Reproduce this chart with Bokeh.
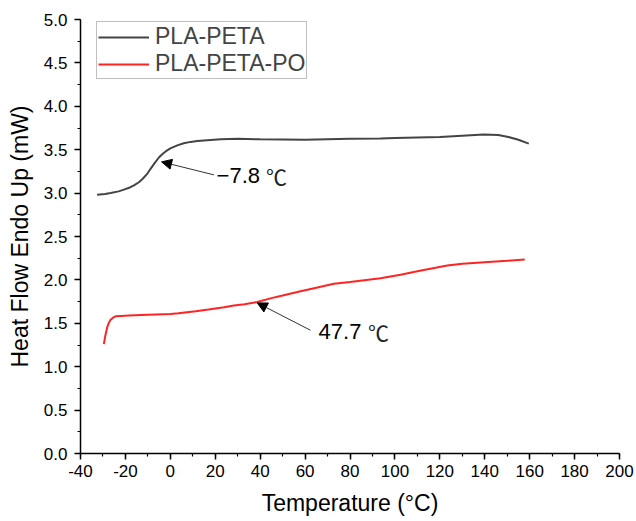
from bokeh.plotting import figure
from bokeh.models import (Range1d, SingleIntervalTicker, NumeralTickFormatter, Legend,
                          LegendItem, Arrow, NormalHead, Label)
from bokeh.embed import file_html
from bokeh.resources import INLINE

# ---- data ----
peta_x = [-32.6, -29, -26.6, -23, -20.7, -18, -16.2, -14, -12.5, -10.5, -8.8, -7, -5.1, -3.5,
          -2.1, 0, 3.1, 6, 9, 12, 16.5, 22.4, 30, 40, 60, 80, 93.6, 100, 120, 130, 139.5,
          146, 150, 155, 159.6]
peta_y = [2.98, 2.99, 3.00, 3.02, 3.04, 3.065, 3.09, 3.125, 3.16, 3.215, 3.28, 3.345, 3.41,
          3.45, 3.48, 3.515, 3.55, 3.575, 3.59, 3.60, 3.61, 3.62, 3.625, 3.62, 3.615, 3.625,
          3.63, 3.635, 3.645, 3.66, 3.675, 3.67, 3.65, 3.615, 3.57]

po_x = [-29.6, -29, -28.1, -27.3, -26.6, -25.5, -24.4, -22, -18.5, -10, 0, 3.6, 11.3, 17,
        23.9, 28.3, 33, 38.7, 45, 50, 58, 65, 72.8, 80, 93.6, 102.5, 110, 123.3, 130, 138.2,
        150, 157.8]
po_y = [1.26, 1.35, 1.455, 1.51, 1.54, 1.565, 1.58, 1.585, 1.59, 1.598, 1.607, 1.615, 1.64,
        1.66, 1.685, 1.705, 1.72, 1.745, 1.79, 1.82, 1.87, 1.91, 1.955, 1.975, 2.02, 2.06,
        2.10, 2.165, 2.185, 2.20, 2.22, 2.235]

series_names = ["PLA-PETA", "PLA-PETA-PO"]
tg_labels = ["\u22127.8", "47.7"]

FONT = "Liberation Sans"

p = figure(width=636, height=521, output_backend="svg", toolbar_location=None,
           x_range=Range1d(-40, 200), y_range=Range1d(0, 5),
           min_border_left=80, min_border_right=17, min_border_top=19, min_border_bottom=68)
p.outline_line_color = None
p.xgrid.visible = False
p.ygrid.visible = False
p.background_fill_color = "white"
p.border_fill_color = "white"

p.xaxis.ticker = SingleIntervalTicker(interval=20, num_minor_ticks=2)
p.yaxis.ticker = SingleIntervalTicker(interval=0.5, num_minor_ticks=2)
p.xaxis.formatter = NumeralTickFormatter(format="0")
p.yaxis.formatter = NumeralTickFormatter(format="0.0")

for ax in (p.xaxis, p.yaxis):
    ax.axis_line_color = "black"
    ax.axis_line_width = 1.5
    ax.major_tick_line_color = "black"
    ax.major_tick_line_width = 1.5
    ax.minor_tick_line_color = "black"
    ax.minor_tick_line_width = 1.2
    ax.major_tick_in = 0
    ax.major_tick_out = 6
    ax.minor_tick_in = 0
    ax.minor_tick_out = 3
    ax.major_label_text_font = FONT
    ax.major_label_text_font_size = "17px"
    ax.major_label_text_color = "black"
    ax.axis_label_text_font = FONT
    ax.axis_label_text_font_size = "23px"
    ax.axis_label_text_font_style = "normal"
    ax.axis_label_text_color = "black"

p.xaxis.axis_label = "Temperature (\u00b0C)"
p.yaxis.axis_label = "Heat Flow Endo Up (mW)"
p.xaxis.major_label_standoff = 5
p.xaxis.axis_label_standoff = 10
p.yaxis.major_label_standoff = 7
p.yaxis.axis_label_standoff = 8

r1 = p.line(peta_x, peta_y, line_color="#444444", line_width=2)
r2 = p.line(po_x, po_y, line_color="#ff2424", line_width=2)

legend = Legend(items=[LegendItem(label=series_names[0], renderers=[r1]),
                       LegendItem(label=series_names[1], renderers=[r2])],
                location=(16, 374), padding=1, spacing=-2, margin=0,
                glyph_width=51, glyph_height=24, label_height=24, label_standoff=6,
                label_text_font=FONT, label_text_font_size="23px",
                border_line_color="#7f7f7f", border_line_width=1,
                background_fill_color="white", background_fill_alpha=1)
p.add_layout(legend, "center")

# annotations: arrows and Tg labels
p.add_layout(Arrow(end=NormalHead(size=10, fill_color="black", line_color="black"),
                   x_start=19.4, y_start=3.21, x_end=-3.9, y_end=3.36,
                   line_color="#333333", line_width=1))
p.add_layout(Arrow(end=NormalHead(size=10, fill_color="black", line_color="black"),
                   x_start=62.4, y_start=1.42, x_end=38.7, y_end=1.735,
                   line_color="#333333", line_width=1))

p.add_layout(Label(x=20.6, y=3.20, text=tg_labels[0], text_font=FONT, text_font_size="22px",
                   text_baseline="middle", text_align="left", text_color="black"))
p.add_layout(Label(x=42.6, y=3.20, text="\u2103", text_font="Noto Sans CJK SC",
                   text_font_size="21px", text_baseline="middle", text_align="left",
                   text_color="#222222"))
p.add_layout(Label(x=66.0, y=1.40, text=tg_labels[1], text_font=FONT, text_font_size="22px",
                   text_baseline="middle", text_align="left", text_color="black"))
p.add_layout(Label(x=88.0, y=1.40, text="\u2103", text_font="Noto Sans CJK SC",
                   text_font_size="21px", text_baseline="middle", text_align="left",
                   text_color="#222222"))

open("out.html", "w").write(file_html(p, INLINE))
